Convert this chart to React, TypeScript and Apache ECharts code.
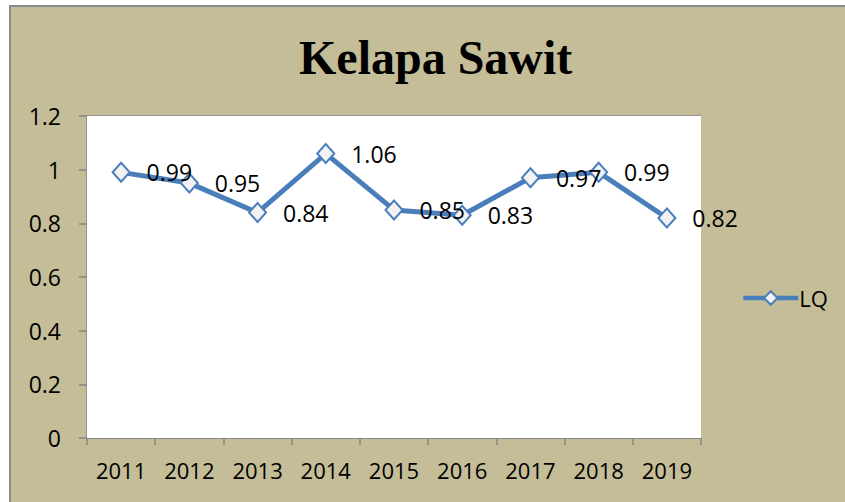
import React, { useEffect, useRef } from "react";
import * as echarts from "echarts";

const categories = ["2011", "2012", "2013", "2014", "2015", "2016", "2017", "2018", "2019"];
const lqValues = [0.99, 0.95, 0.84, 1.06, 0.85, 0.83, 0.97, 0.99, 0.82];
const seriesName = "LQ";
const titleText = "Kelapa Sawit";

export default function App() {
  const ref = useRef<HTMLDivElement>(null);
  useEffect(() => {
    if (!ref.current) return;
    const chart = echarts.init(ref.current, null, { renderer: "svg" });
    const font = "'Open Sans', sans-serif";
    chart.setOption({
      animation: false,
      backgroundColor: "#ffffff",
      graphic: [
        {
          type: "rect",
          z: -10,
          silent: true,
          shape: { x: 10, y: 6, width: 850, height: 510 },
          style: { fill: "#C4BD97", stroke: "#8C8C8C", lineWidth: 2 },
        },
      ],
      title: {
        text: titleText,
        left: 294,
        top: 28,
        textStyle: {
          fontFamily: "'Liberation Serif', 'Times New Roman', serif",
          fontWeight: "bold",
          fontSize: 48,
          color: "#000000",
        },
      },
      legend: {
        data: [seriesName],
        left: 741,
        top: 287,
        padding: 0,
        itemWidth: 55,
        itemHeight: 17,
        itemGap: 4,
        lineStyle: { width: 4.5, color: "#4A7EBB" },
        textStyle: { fontFamily: font, fontSize: 22, color: "#000000", padding: [0, 0, 0, -4] },
      },
      grid: {
        left: 87,
        top: 116,
        right: 144,
        bottom: 64,
        show: true,
        backgroundColor: "#ffffff",
        borderWidth: 0,
        z: 1,
      },
      xAxis: {
        type: "category",
        data: categories,
        boundaryGap: true,
        axisLine: { lineStyle: { color: "#868686", width: 1.5 } },
        axisTick: { show: true, interval: 0, inside: false, length: 7, alignWithLabel: false, lineStyle: { color: "#868686", width: 1.5 } },
        axisLabel: { interval: 0, hideOverlap: false, fontFamily: font, fontSize: 22, color: "#000000", margin: 21 },
        splitLine: { show: false },
      },
      yAxis: {
        type: "value",
        min: 0,
        max: 1.2,
        interval: 0.2,
        axisLine: { show: true, lineStyle: { color: "#868686", width: 1.5 } },
        axisTick: { show: true, inside: false, length: 8, lineStyle: { color: "#868686", width: 1.5 } },
        axisLabel: { fontFamily: font, fontSize: 23, color: "#000000", margin: 26 },
        splitLine: { show: true, lineStyle: { color: "#868686", width: 1.5 } },
      },
      series: [
        {
          name: seriesName,
          type: "line",
          data: lqValues,
          z: 5,
          symbol: "diamond",
          symbolSize: [17, 19],
          lineStyle: { color: "#4A7EBB", width: 5 },
          itemStyle: { color: "#F2F2F2", borderColor: "#4A7EBB", borderWidth: 2 },
          label: {
            show: true,
            position: "right",
            distance: 16,
            fontFamily: font,
            fontSize: 23,
            color: "#000000",
          },
        },
      ],
    });
    return () => chart.dispose();
  }, []);
  return (
    <div
      ref={ref}
      style={{ position: "fixed", left: 0, top: 0, width: 845, height: 502 }}
    />
  );
}
